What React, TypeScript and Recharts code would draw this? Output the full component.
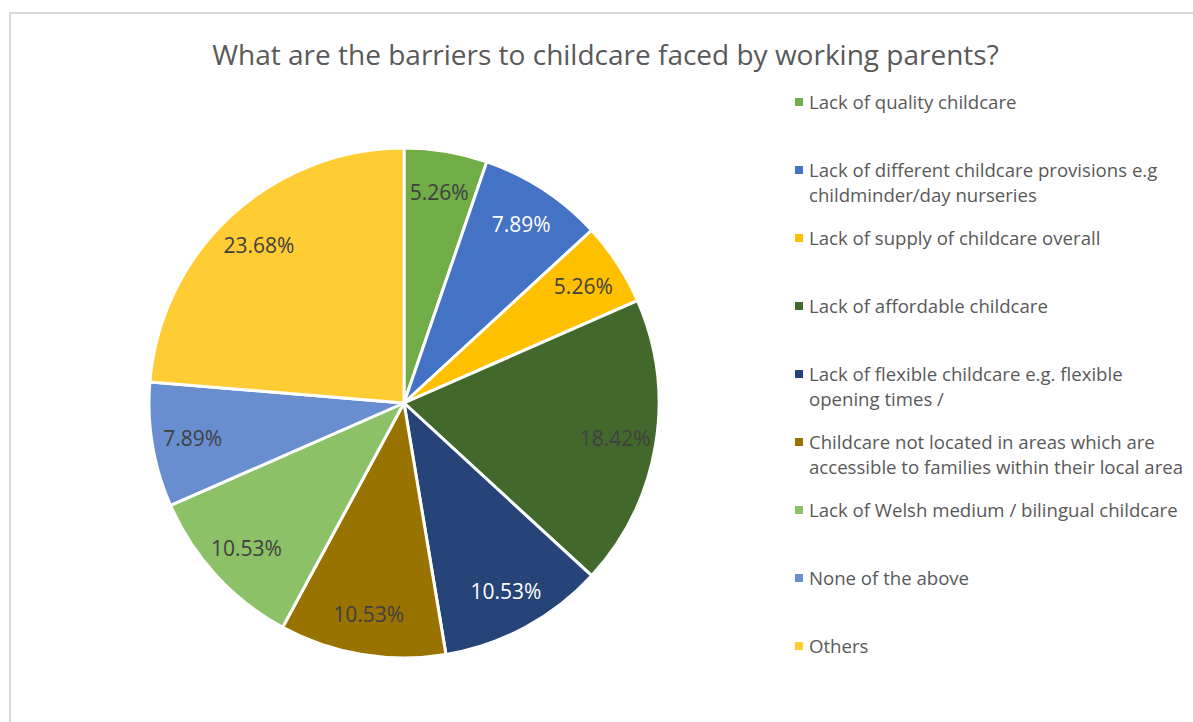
import { PieChart, Pie, Cell, Legend } from 'recharts';

const categories = [
  'Lack of quality childcare',
  'Lack of different childcare provisions e.g childminder/day nurseries',
  'Lack of supply of childcare overall',
  'Lack of affordable childcare',
  'Lack of flexible childcare e.g. flexible opening times /',
  'Childcare not located in areas which are accessible to families within their local area',
  'Lack of Welsh medium / bilingual childcare',
  'None of the above',
  'Others',
];

// legend lines as they wrap in the original
const legendLines = [
  ['Lack of quality childcare'],
  ['Lack of different childcare provisions e.g', 'childminder/day nurseries'],
  ['Lack of supply of childcare overall'],
  ['Lack of affordable childcare'],
  ['Lack of flexible childcare e.g. flexible', 'opening times /'],
  ['Childcare not located in areas which are', 'accessible to families within their local area'],
  ['Lack of Welsh medium / bilingual childcare'],
  ['None of the above'],
  ['Others'],
];

const counts = [2, 3, 2, 7, 4, 4, 4, 3, 9];

const colors = ['#70AD47', '#4472C4', '#FFC000', '#43682B', '#264478', '#997300', '#8CC168', '#698ED0', '#FFCD33'];
const labelColors = ['#404040', '#ffffff', '#404040', '#404040', '#ffffff', '#404040', '#404040', '#404040', '#404040'];

const data = categories.map((name, i) => ({ name, value: counts[i] }));

const FONT = "'Open Sans', 'Noto Sans', sans-serif";
const RAD = Math.PI / 180;

function renderLabel(props: any) {
  const { cx, cy, midAngle, outerRadius, percent, index } = props;
  const r = outerRadius * 0.84;
  const x = cx + r * Math.cos(-midAngle * RAD);
  const y = cy + r * Math.sin(-midAngle * RAD);
  return (
    <text
      x={x}
      y={y}
      fill={labelColors[index]}
      textAnchor="middle"
      dominantBaseline="central"
      fontSize={21}
      fontFamily={FONT}
    >
      {(percent * 100).toFixed(2)}%
    </text>
  );
}

function LegendBox() {
  return (
    <div style={{ fontFamily: FONT, fontSize: 18.6, color: '#595959' }}>
      {legendLines.map((lines, i) => (
        <div key={i} style={{ position: 'absolute', left: 0, top: i * 68, whiteSpace: 'nowrap' }}>
          <div
            style={{
              position: 'absolute',
              left: 0,
              top: 8,
              width: 8,
              height: 8,
              background: colors[i],
            }}
          />
          {lines.map((l, j) => (
            <div key={j} style={{ position: 'absolute', left: 14, top: j * 25 - 1, lineHeight: '25px' }}>
              {l}
            </div>
          ))}
        </div>
      ))}
    </div>
  );
}

export default function App() {
  return (
    <div style={{ position: 'absolute', left: 0, top: 0, width: 1193, height: 722, overflow: 'hidden', background: '#fff' }}>
      <div
        style={{
          position: 'absolute',
          left: 9,
          top: 12,
          width: 1220,
          height: 760,
          border: '2px solid #D9D9D9',
          boxSizing: 'border-box',
        }}
      />
      <div
        style={{
          position: 'absolute',
          left: 0,
          width: 1211,
          top: 35,
          textAlign: 'center',
          fontFamily: FONT,
          fontSize: 28,
          color: '#595959',
          whiteSpace: 'nowrap',
        }}
      >
        What are the barriers to childcare faced by working parents?
      </div>
      <div style={{ position: 'absolute', left: 0, top: 0 }}>
        <PieChart width={1193} height={722} margin={{ top: 0, right: 0, bottom: 0, left: 0 }}>
          <Pie
            data={data}
            dataKey="value"
            nameKey="name"
            cx={404}
            cy={403}
            outerRadius={255}
            startAngle={90}
            endAngle={-270}
            stroke="#ffffff"
            strokeWidth={3}
            label={renderLabel}
            labelLine={false}
            isAnimationActive={false}
          >
            {data.map((d, i) => (
              <Cell key={d.name} fill={colors[i]} />
            ))}
          </Pie>
          <Legend
            content={() => <LegendBox />}
            wrapperStyle={{ position: 'absolute', left: 795, top: 90, width: 390, height: 600 }}
          />
        </PieChart>
      </div>
    </div>
  );
}
